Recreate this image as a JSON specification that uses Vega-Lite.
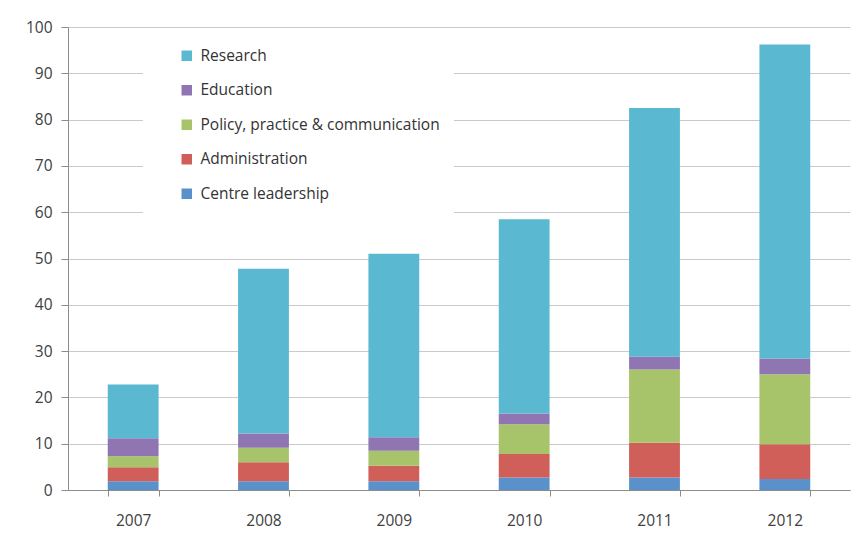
{
  "$schema": "https://vega.github.io/schema/vega-lite/v6.json",
  "width": 782,
  "height": 463,
  "autosize": {"type": "none"},
  "padding": {"left": 68, "top": 27, "right": 10, "bottom": 47},
  "background": "white",
  "config": {
    "font": "Open Sans",
    "view": {"stroke": null},
    "axis": {"labelFont": "Open Sans", "labelColor": "#404040", "labelFontSize": 15.5}
  },
  "data": {
    "values": [
      {"year": "2007", "category": "Centre leadership", "value": 1.9},
      {"year": "2007", "category": "Administration", "value": 3.0},
      {"year": "2007", "category": "Policy, practice & communication", "value": 2.4},
      {"year": "2007", "category": "Education", "value": 3.9},
      {"year": "2007", "category": "Research", "value": 11.6},
      {"year": "2008", "category": "Centre leadership", "value": 1.9},
      {"year": "2008", "category": "Administration", "value": 4.1},
      {"year": "2008", "category": "Policy, practice & communication", "value": 3.1},
      {"year": "2008", "category": "Education", "value": 3.1},
      {"year": "2008", "category": "Research", "value": 35.6},
      {"year": "2009", "category": "Centre leadership", "value": 1.9},
      {"year": "2009", "category": "Administration", "value": 3.35},
      {"year": "2009", "category": "Policy, practice & communication", "value": 3.25},
      {"year": "2009", "category": "Education", "value": 2.9},
      {"year": "2009", "category": "Research", "value": 39.6},
      {"year": "2010", "category": "Centre leadership", "value": 2.7},
      {"year": "2010", "category": "Administration", "value": 5.1},
      {"year": "2010", "category": "Policy, practice & communication", "value": 6.4},
      {"year": "2010", "category": "Education", "value": 2.3},
      {"year": "2010", "category": "Research", "value": 42.0},
      {"year": "2011", "category": "Centre leadership", "value": 2.7},
      {"year": "2011", "category": "Administration", "value": 7.5},
      {"year": "2011", "category": "Policy, practice & communication", "value": 15.8},
      {"year": "2011", "category": "Education", "value": 2.8},
      {"year": "2011", "category": "Research", "value": 53.7},
      {"year": "2012", "category": "Centre leadership", "value": 2.4},
      {"year": "2012", "category": "Administration", "value": 7.5},
      {"year": "2012", "category": "Policy, practice & communication", "value": 15.1},
      {"year": "2012", "category": "Education", "value": 3.4},
      {"year": "2012", "category": "Research", "value": 67.8}
    ]
  },
  "transform": [
    {"calculate": "indexof(['Centre leadership','Administration','Policy, practice & communication','Education','Research'], datum.category)", "as": "stackOrder"}
  ],
  "mark": {"type": "bar"},
  "encoding": {
    "x": {
      "field": "year", "type": "nominal", "title": null,
      "scale": {"paddingInner": 0.61, "paddingOuter": 0.305},
      "axis": {
        "labelAngle": 0, "domainColor": "#8c8c8c", "tickColor": "#8c8c8c",
        "tickBand": "extent", "tickSize": 6, "labelPadding": 17,
        "grid": false
      }
    },
    "y": {
      "field": "value", "type": "quantitative", "stack": "zero", "title": null,
      "scale": {"domain": [0, 100], "nice": false},
      "axis": {
        "values": [0, 10, 20, 30, 40, 50, 60, 70, 80, 90, 100],
        "domainColor": "#8c8c8c", "tickColor": "#8c8c8c", "tickSize": 7,
        "labelPadding": 9, "gridColor": "#cacaca", "gridWidth": 1.2
      }
    },
    "color": {
      "field": "category", "type": "nominal", "title": null,
      "scale": {
        "domain": ["Research", "Education", "Policy, practice & communication", "Administration", "Centre leadership"],
        "range": ["#5ab8d1", "#8f76b3", "#a8c46a", "#cf5f58", "#5a91cb"]
      },
      "legend": {
        "orient": "none", "legendX": 75, "legendY": 7,
        "fillColor": "white", "padding": 14, "symbolOffset": 22,
        "symbolType": "square", "symbolSize": 110, "symbolStrokeWidth": 0,
        "labelFontSize": 15.5, "labelFont": "Open Sans", "labelColor": "#333333",
        "labelOffset": 6, "rowPadding": 17.5, "labelLimit": 400
      }
    },
    "order": {"field": "stackOrder", "type": "quantitative", "sort": "ascending"}
  }
}
